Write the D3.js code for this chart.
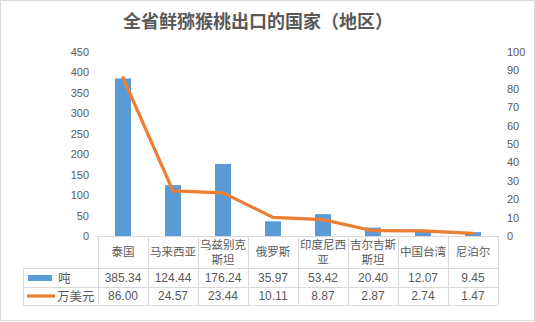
<!DOCTYPE html>
<html>
<head>
<meta charset="utf-8">
<script src="https://cdn.jsdelivr.net/npm/d3@7"></script>
<style>
  html, body { margin: 0; padding: 0; background: #fff; }
  svg { display: block; }
</style>
</head>
<body>
<svg id="chart" width="535" height="322"></svg>
<script>
// Export destinations and their volumes
const categories = ["泰国", "马来西亚", "乌兹别克斯坦", "俄罗斯", "印度尼西亚", "吉尔吉斯斯坦", "中国台湾", "尼泊尔"];
const categoryLines = [["泰国"], ["马来西亚"], ["乌兹别克", "斯坦"], ["俄罗斯"], ["印度尼西", "亚"], ["吉尔吉斯", "斯坦"], ["中国台湾"], ["尼泊尔"]];
const tons = [385.34, 124.44, 176.24, 35.97, 53.42, 20.40, 12.07, 9.45];
const usd = [86.00, 24.57, 23.44, 10.11, 8.87, 2.87, 2.74, 1.47];
const leftTicks = [0, 50, 100, 150, 200, 250, 300, 350, 400, 450];
const rightTicks = [0, 10, 20, 30, 40, 50, 60, 70, 80, 90, 100];
const seriesNames = ["吨", "万美元"];

const blue = "#5B9BD5", orange = "#ED7D31", textCol = "#595959", gridCol = "#D9D9D9";
const cjk = "'Noto Sans CJK SC', sans-serif";
const num = "'Liberation Sans', Arial, sans-serif";

const svg = d3.select("#chart");

// Outer frame
svg.append("rect").attr("x", 0.5).attr("y", 0.5).attr("width", 534).attr("height", 320)
  .attr("fill", "#fff").attr("stroke", gridCol);

// Title
svg.append("text").attr("x", 258).attr("y", 28).attr("text-anchor", "middle")
  .attr("font-family", cjk).attr("font-weight", 700).attr("font-size", 18)
  .attr("fill", textCol).text("全省鲜猕猴桃出口的国家（地区）");

const plotLeft = 98, plotRight = 498, plotTop = 52, plotBottom = 236;

const x = d3.scaleBand().domain(categories).range([plotLeft, plotRight]).paddingInner(0.68).paddingOuter(0.34);
const xc = d3.scaleBand().domain(categories).range([plotLeft, plotRight]);
const yL = d3.scaleLinear().domain([0, 450]).range([plotBottom, plotTop]);
const yR = d3.scaleLinear().domain([0, 100]).range([plotBottom, plotTop]);

// Left axis
const axL = svg.append("g").attr("transform", `translate(${plotLeft - 9},0)`)
  .call(d3.axisLeft(yL).tickValues(leftTicks).tickSize(0).tickPadding(0));
axL.select(".domain").remove();
axL.selectAll("text").attr("font-family", num).attr("font-size", 11).attr("fill", textCol);

// Right axis
const axR = svg.append("g").attr("transform", `translate(${plotRight + 9},0)`)
  .call(d3.axisRight(yR).tickValues(rightTicks).tickSize(0).tickPadding(0));
axR.select(".domain").remove();
axR.selectAll("text").attr("font-family", num).attr("font-size", 11).attr("fill", textCol);

// Bars
svg.append("g").selectAll("rect").data(tons).join("rect")
  .attr("x", (d, i) => x(categories[i]))
  .attr("width", x.bandwidth())
  .attr("y", d => yL(d))
  .attr("height", d => plotBottom - yL(d))
  .attr("fill", blue);

// Line
const line = d3.line().x((d, i) => xc(categories[i]) + xc.bandwidth() / 2).y(d => yR(d));
svg.append("path").datum(usd).attr("d", line)
  .attr("fill", "none").attr("stroke", orange).attr("stroke-width", 3.2)
  .attr("stroke-linejoin", "round").attr("stroke-linecap", "round");

// Data table
const tableLeft = 23, row1 = 268, row2 = 287, tableBottom = 305;
const tbl = svg.append("g").attr("stroke", gridCol).attr("stroke-width", 1).attr("shape-rendering", "crispEdges");
tbl.append("line").attr("x1", plotLeft).attr("x2", plotRight).attr("y1", plotBottom).attr("y2", plotBottom);
[row1, row2, tableBottom].forEach(yy =>
  tbl.append("line").attr("x1", tableLeft).attr("x2", plotRight).attr("y1", yy).attr("y2", yy));
tbl.append("line").attr("x1", tableLeft).attr("x2", tableLeft).attr("y1", row1).attr("y2", tableBottom);
categories.concat([null]).forEach((c, i) => {
  const xx = c ? xc(c) : plotRight;
  tbl.append("line").attr("x1", xx).attr("x2", xx).attr("y1", plotBottom).attr("y2", tableBottom);
});

// Category labels
const catG = svg.append("g").attr("font-family", cjk).attr("font-size", 11.5).attr("fill", textCol).attr("text-anchor", "middle");
categoryLines.forEach((lines, i) => {
  const cx = xc(categories[i]) + xc.bandwidth() / 2;
  const t = catG.append("text").attr("x", cx);
  if (lines.length === 1) {
    t.append("tspan").attr("x", cx).attr("y", 256).text(lines[0]);
  } else {
    t.append("tspan").attr("x", cx).attr("y", 249).text(lines[0]);
    t.append("tspan").attr("x", cx).attr("y", 264).text(lines[1]);
  }
});

// Values
const valG = svg.append("g").attr("font-family", num).attr("font-size", 12).attr("fill", textCol).attr("text-anchor", "middle");
[tons, usd].forEach((vals, r) => {
  vals.forEach((v, i) => {
    valG.append("text").attr("x", xc(categories[i]) + xc.bandwidth() / 2)
      .attr("y", r === 0 ? 282 : 300).text(v.toFixed(2));
  });
});

// Legend keys in table
svg.append("rect").attr("x", 28).attr("y", 275).attr("width", 24).attr("height", 6).attr("fill", blue);
svg.append("line").attr("x1", 27).attr("x2", 55).attr("y1", 296).attr("y2", 296)
  .attr("stroke", orange).attr("stroke-width", 3.2);
svg.append("text").attr("x", 58).attr("y", 283).attr("font-family", cjk).attr("font-size", 12.5).attr("fill", textCol).text(seriesNames[0]);
svg.append("text").attr("x", 57).attr("y", 301).attr("font-family", cjk).attr("font-size", 12.5).attr("fill", textCol).text(seriesNames[1]);
</script>
</body>
</html>
